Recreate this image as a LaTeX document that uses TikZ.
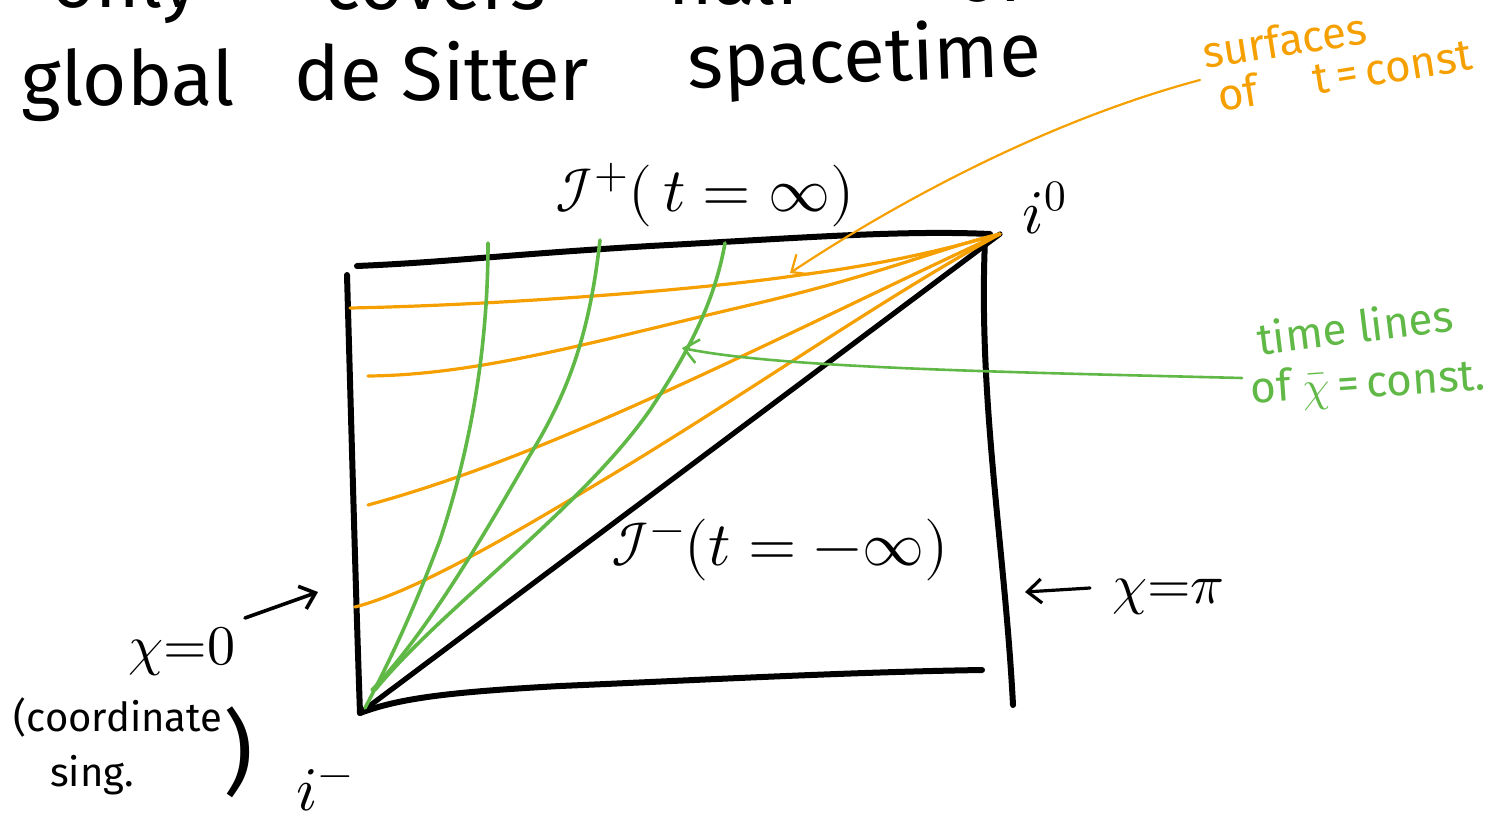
\documentclass[tikz,border=0pt]{standalone}
\usepackage{fontspec}
\usepackage{unicode-math}
\setmainfont{Fira Sans}
\setmathfont{Latin Modern Math}
\usetikzlibrary{arrows.meta}
\definecolor{org}{RGB}{245,160,0}
\definecolor{grn}{RGB}{96,184,70}
\begin{document}
\begin{tikzpicture}[x=0.5pt,y=-0.5pt,
  boxl/.style={line width=3pt,line cap=round,line join=round},
  orng/.style={draw=org,line width=1.6pt,line cap=round},
  grnl/.style={draw=grn,line width=1.8pt,line cap=round},
  barb/.style={-{Straight Barb[length=7pt,width=12pt]}},
  big/.style={font=\fontsize{38}{46}\selectfont,anchor=base,inner sep=0pt},
  mid/.style={font=\fontsize{31}{37}\selectfont,inner sep=0pt},
  sml/.style={font=\fontsize{22}{26}\selectfont,inner sep=0pt},
  olbl/.style={sml,text=org,anchor=base},
  glbl/.style={sml,text=grn,anchor=base}]
\useasboundingbox (0,0) rectangle (1499,819);
% title lines
\node[big] (w1) at (125,8) {only};
\node[big] (w2) at (435,10) {covers};
\node[big] (w3) at (735,4) {half};
\node[big] (w4) at (990,2) {of};
\node[big] (g1) at (128,105) {global};
\node[big] (g2) at (442,100) {de Sitter};
\node[big,rotate=2] (g3) at (865,82) {spacetime};
% corner coordinates
\coordinate (i0) at (1000,234);
\coordinate (im) at (360,713);
% box
\draw[boxl] (347,275) .. controls (352,450) and (356,600) .. (im);
\draw[boxl] (im) .. controls (400,698) and (450,692) .. (560,686) .. controls (700,680) and (850,672) .. (982,670);
\draw[boxl] (357,266) .. controls (450,262) and (500,255) .. (650,246) .. controls (800,238) and (900,230) .. (990,234);
\draw[boxl] (985,240) .. controls (978,400) and (1005,550) .. (1013,705);
\draw[line width=2.6pt,line cap=round] (im) -- (i0);
% orange t=const surfaces
\draw[orng] (350,308) .. controls (500,305) and (700,290) .. (800,275) .. controls (900,262) and (960,245) .. (i0);
\draw[orng] (368,376) .. controls (480,375) and (600,340) .. (750,305) .. controls (880,275) and (950,245) .. (i0);
\draw[orng] (368,505) .. controls (460,480) and (560,440) .. (680,385) .. controls (800,330) and (900,280) .. (i0);
\draw[orng] (355,607) .. controls (420,590) and (520,530) .. (620,470) .. controls (760,385) and (880,300) .. (i0);
% green chi=const lines
\draw[grnl] (488,243) .. controls (488,350) and (470,450) .. (440,540) .. controls (410,620) and (385,670) .. (365,708);
\draw[grnl] (600,240) .. controls (590,330) and (570,390) .. (530,455) .. controls (470,560) and (420,640) .. (372,690);
\draw[grnl] (725,243) .. controls (715,300) and (690,350) .. (650,410) .. controls (580,510) and (440,610) .. (375,690);
% labels in diagram
\node[mid] (scrip) at (705,195) {$\mathcal{I}^{+}(\,t=\infty)$};
\node[mid] (scrim) at (780,550) {$\mathcal{I}^{-}(t=-\infty)$};
\node[mid] (izero) at (1045,208) {$i^{0}$};
\node[mid] (iminus) at (325,790) {$i^{-}$};
\node[mid,font=\fontsize{28}{34}\selectfont] (chipi) at (1168,597) {$\chi{=}\pi$};
\node[mid,font=\fontsize{28}{34}\selectfont] (chizero) at (182,652) {$\chi{=}0$};
\node[sml,font=\fontsize{20}{24}\selectfont] (coord) at (118,717) {(coordinate};
\node[sml,font=\fontsize{20}{24}\selectfont] (sing) at (92,775) {sing.};
\node[inner sep=0pt,font=\fontsize{46}{54}\selectfont] (rpar) at (238,752) {)};
% black arrows
\coordinate (lefttip) at (318,592);
\coordinate (righttip) at (1025,592);
\coordinate (c0t) at (245,618);
\coordinate (cpt) at (1090,588);
\draw[line width=1.8pt,line cap=round,barb] (c0t) -- (lefttip);
\draw[line width=1.6pt,line cap=round,barb] (cpt) -- (righttip);
% orange annotation
\node[olbl,rotate=9] (surf) at (1287,56) {surfaces};
\node[olbl,rotate=9] (of1) at (1240,108) {of};
\node[olbl,rotate=9] (tc) at (1395,82) {t\,=\,const};
\coordinate (otail) at (1200,80);
\coordinate (otip) at (790,273);
\draw[org,line width=1.1pt,line cap=round,barb] (otail) .. controls (1050,120) and (900,200) .. (otip);
% green annotation
\node[glbl,rotate=7] (tl) at (1357,343) {time lines};
\node[glbl,rotate=4] (of2) at (1272,402) {of};
\node[glbl,rotate=4] (xc) at (1395,396) {$\bar{\chi}$\,=\,const.};
\coordinate (gtail) at (1242,378);
\coordinate (gtip) at (682,348);
\draw[grn,line width=1.3pt,line cap=round,barb] (gtail) .. controls (1000,372) and (780,368) .. (gtip);
\end{tikzpicture}
\end{document}
